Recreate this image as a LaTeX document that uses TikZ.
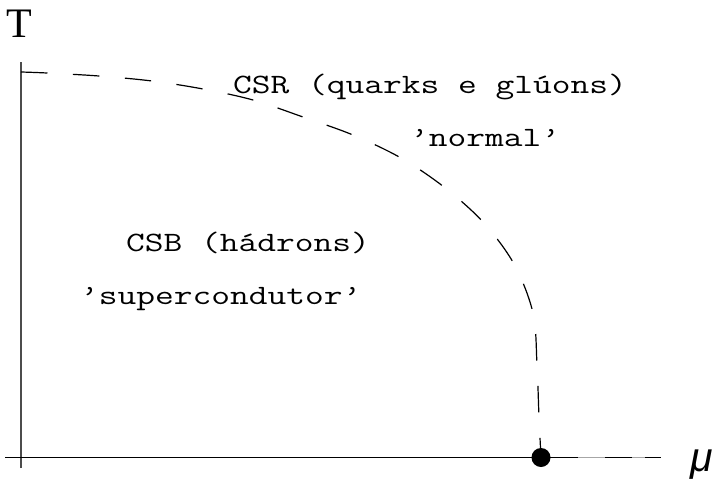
\documentclass[tikz,border=0pt]{standalone}
\usepackage{fontspec}
\usepackage{graphicx}
\newfontfamily\axisserif{Liberation Serif}
\newfontfamily\axissans{Liberation Sans}
% region labels: typewriter face, widened
\newcommand{\phaselabel}[1]{\scalebox{1.30}[1]{\ttfamily\fontsize{28}{31}\selectfont #1}}

\begin{document}
\begin{tikzpicture}[x=1pt,y=-1pt,
  axisline/.style={line width=1.1pt,black},
  yaxisline/.style={line width=1.1pt,black!70},
  boundary/.style={line width=1.2pt,black,dash pattern=on 26.5pt off 25.5pt},
  tail/.style={line width=1.4pt,black!35},
  phasetext/.style={inner sep=0pt,anchor=base west},
  critdot/.style={circle,fill=black,inner sep=0pt,minimum size=19pt}]
\useasboundingbox (0,0) rectangle (722,479);

% axes
\coordinate (xl) at (5,457.5);
\coordinate (xr) at (661,457.5);
\coordinate (yb) at (21,468);
\coordinate (yt) at (21,62);
\draw[yaxisline] (yb) -- (yt);
\draw[axisline] (xl) -- (xr);

% axis labels
\node[phasetext] (T) at (6,37) {\axisserif\fontsize{42}{44}\selectfont T};
\node[phasetext] (mu) at (690,471) {\axissans\itshape\fontsize{41}{44}\selectfont μ};

% phase boundary, ending at the critical point
\coordinate (start) at (21,72);
\node[critdot] (cp) at (541,457.5) {};
\draw[boundary] plot[smooth,tension=0.55] coordinates {
  (start) (47,73) (99,76) (152,81) (203,89) (253,100) (303,117)
  (353,135) (401,158) (444,187) (483,222) (514,264) (533,313)
  (537,365) (539,417) (cp.center)};

% faint continuation along the axis
\draw[tail] (578,457.5) -- (605,457.5);
\draw[tail] (632,457.5) -- (645,457.5);

% region labels
\node[phasetext] (csr) at (233,93) {\phaselabel{CSR (quarks e glúons)}};
\node[phasetext] (nrm) at (410,146) {\phaselabel{’normal’}};
\node[phasetext] (csb) at (126,251.7) {\phaselabel{CSB (hádrons)}};
\node[phasetext] (sup) at (80,304) {\phaselabel{’supercondutor’}};
\end{tikzpicture}
\end{document}
